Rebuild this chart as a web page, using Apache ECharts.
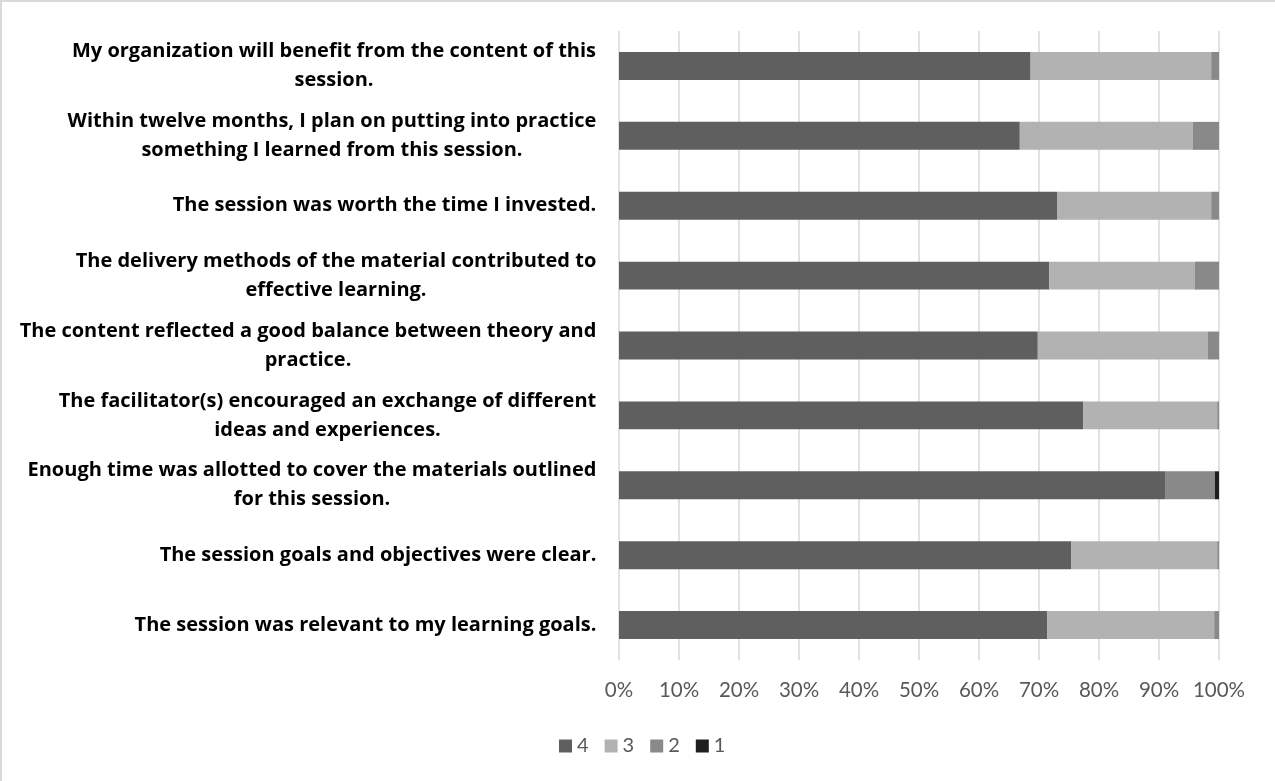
<!DOCTYPE html>
<html>
<head>
<meta charset="utf-8">
<title>Session evaluation</title>
<script src="https://cdn.jsdelivr.net/npm/echarts@6/dist/echarts.min.js"></script>
<style>
  html, body { margin: 0; padding: 0; background: #fff; }
  #frame {
    position: relative; width: 1275px; height: 781px; box-sizing: border-box;
    border-top: 2px solid #d9d9d9; border-left: 2px solid #d9d9d9;
  }
  #chart { position: absolute; left: -2px; top: -2px; width: 1275px; height: 781px; }
</style>
</head>
<body>
<div id="frame"><div id="chart"></div></div>
<script>
// Survey statements, listed top to bottom
const categories = [
  'My organization will benefit from the content of this\nsession.',
  'Within twelve months, I plan on putting into practice\nsomething I learned from this session.',
  'The session was worth the time I invested.',
  'The delivery methods of the material contributed to\neffective learning.',
  'The content reflected a good balance between theory and\npractice.',
  'The facilitator(s) encouraged an exchange of different\nideas and experiences.',
  'Enough time was allotted to cover the materials outlined\nfor this session.',
  'The session goals and objectives were clear.',
  'The session was relevant to my learning goals.'
];

// Share of responses (%) for each rating
const rating4 = [68.6, 66.8, 73.0, 71.7, 69.8, 77.4, 91.0, 75.4, 71.4];
const rating3 = [30.1, 28.8, 25.7, 24.3, 28.3, 22.3, 0, 24.3, 27.8];
const rating2 = [1.3, 4.4, 1.3, 4.0, 1.9, 0.3, 8.3, 0.3, 0.8];
const rating1 = [0, 0, 0, 0, 0, 0, 0.7, 0, 0];

const seriesNames = ['4', '3', '2', '1'];
const seriesColors = ['#5f5f5f', '#b2b2b2', '#898989', '#1f1f1f'];

const LABEL_FONT = '"Open Sans", "Noto Sans", sans-serif';
const TICK_FONT = 'Lato, "Open Sans", sans-serif';
const LABEL_SIZE = 20;

// Each multi-line label is right-aligned as a block, with its lines centred inside it
const ctx = document.createElement('canvas').getContext('2d');
ctx.font = 'bold ' + LABEL_SIZE + 'px "Open Sans"';
const rich = {};
categories.forEach((c, i) => {
  const w = Math.max(...c.split('\n').map(l => ctx.measureText(l).width));
  rich['c' + i] = {
    width: Math.ceil(w) + 1, align: 'center',
    fontFamily: LABEL_FONT, fontSize: LABEL_SIZE, fontWeight: 'bold',
    color: '#000000', lineHeight: 29
  };
});

const chart = echarts.init(document.getElementById('chart'), null, { renderer: 'canvas' });

const series = [rating4, rating3, rating2, rating1].map((data, i) => ({
  name: seriesNames[i],
  type: 'bar',
  stack: 'total',
  barWidth: '40%',
  data: data,
  itemStyle: { color: seriesColors[i] },
  silent: true
}));

chart.setOption({
  animation: false,
  color: seriesColors,
  grid: { left: 619, right: 56, top: 31, bottom: 121, containLabel: false },
  legend: {
    data: seriesNames,
    bottom: 20,
    left: 554,
    icon: 'rect',
    itemWidth: 13,
    itemHeight: 13,
    itemGap: 16,
    textStyle: { fontFamily: TICK_FONT, fontSize: 20, color: '#595959' }
  },
  xAxis: {
    type: 'value',
    min: 0,
    max: 100,
    interval: 10,
    axisLine: { show: false },
    axisTick: { show: false },
    axisLabel: {
      formatter: '{value}%',
      fontFamily: TICK_FONT, fontSize: 20.5, color: '#595959', margin: 20
    },
    splitLine: { show: true, lineStyle: { color: '#d9d9d9', width: 1.5 } }
  },
  yAxis: {
    type: 'category',
    inverse: true,
    data: categories,
    axisLine: { show: false },
    axisTick: { show: false },
    axisLabel: {
      interval: 0,
      margin: 22,
      align: 'right',
      formatter: (value, idx) => value.split('\n').map(l => '{c' + idx + '|' + l + '}').join('\n'),
      rich: rich
    }
  },
  series: series
});
</script>
</body>
</html>
